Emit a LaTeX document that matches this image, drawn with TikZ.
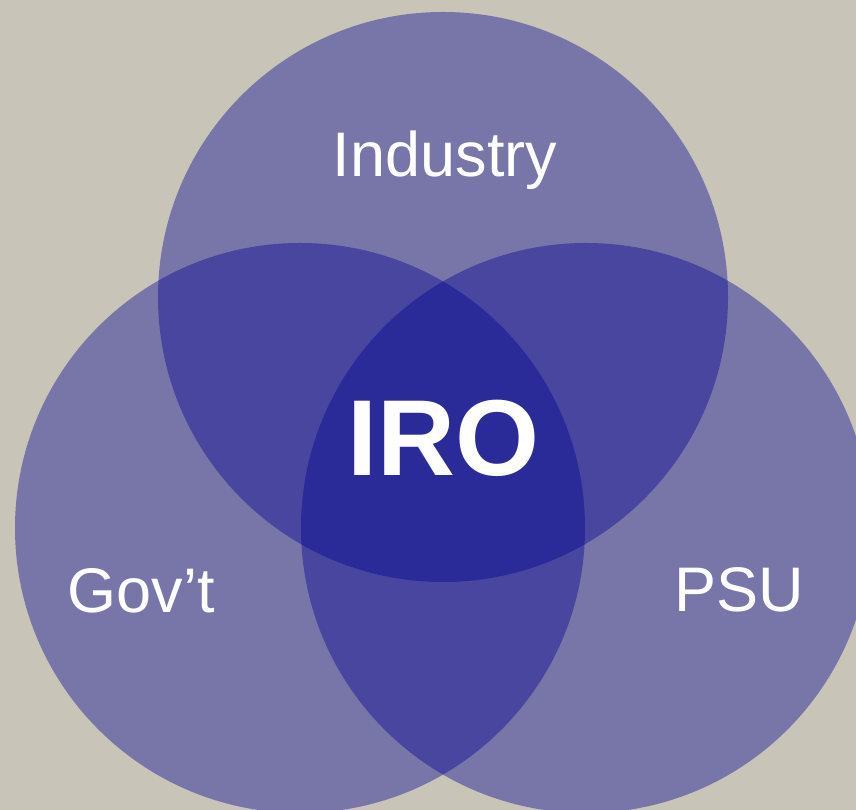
\documentclass[tikz,border=0pt]{standalone}
\usepackage{fontspec}
\setmainfont{Liberation Sans}
\definecolor{bgc}{RGB}{200,196,183}
\definecolor{vennc}{RGB}{0,0,146}
\begin{document}
\begin{tikzpicture}[x=1pt,y=1pt,
  venn/.style={fill=vennc, fill opacity=0.4, draw=none},
  lab/.style={text=white, anchor=base, inner sep=0pt, font=\fontsize{63}{63}\selectfont},
  biglab/.style={text=white, anchor=base, inner sep=0pt, font=\fontsize{108}{108}\selectfont\bfseries}]
\fill[bgc] (0,0) rectangle (856,810);
\useasboundingbox (0,0) rectangle (856,810);
\clip (0,0) rectangle (856,810);
\fill[venn] (443,513) circle (285);
\fill[venn] (300,282) circle (285);
\fill[venn] (586,282) circle (285);
\node[lab] (industry) at (445,633) {Industry};
\node[biglab] (iro) at (443,334) {IRO};
\node[lab] (govt) at (141,197) {Gov’t};
\node[lab] (psu) at (739,198) {PSU};
\end{tikzpicture}
\end{document}
